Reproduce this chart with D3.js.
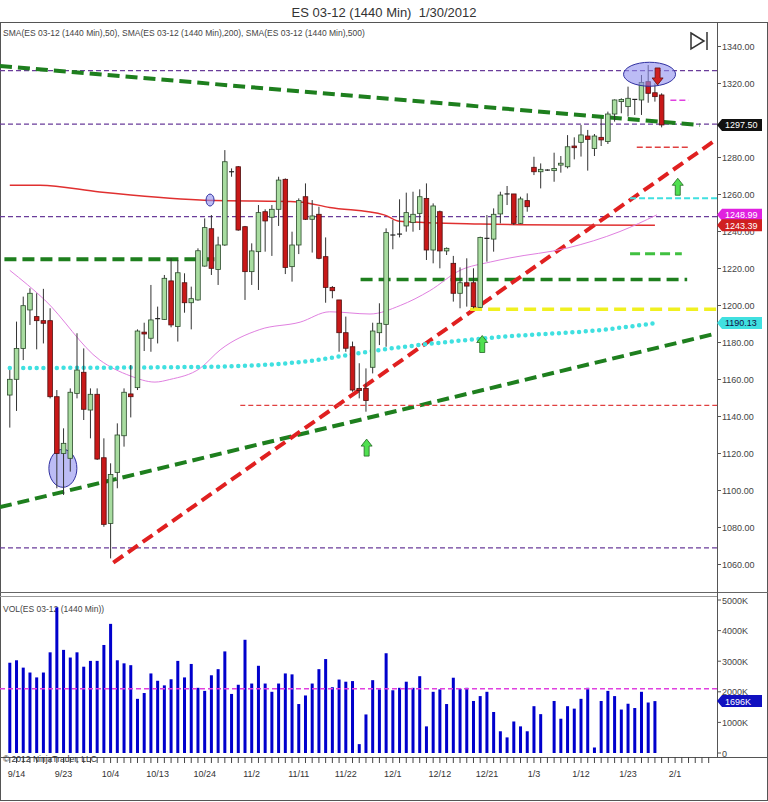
<!DOCTYPE html>
<html><head><meta charset="utf-8">
<script src="https://cdn.jsdelivr.net/npm/d3@7"></script>
<style>body{margin:0;background:#fff}text{font-family:"Liberation Sans",Arial,sans-serif}</style>
</head><body><svg id="c" width="768" height="802"></svg>
<script>
const opens=[1151.6,1160.1,1176.8,1197.6,1194,1191.8,1191.8,1150.7,1120,1117.4,1152.5,1163.9,1143.5,1152,1117.7,1082.2,1109.8,1129.6,1152.2,1155.6,1185.6,1182.3,1192.9,1192.5,1213.3,1188.6,1212.3,1201.5,1203,1221.3,1241.5,1219.5,1232.7,1272.3,1275,1242.6,1218.3,1229.1,1250.7,1247.7,1252,1268.2,1221,1232.7,1258.8,1246.6,1249.3,1226.4,1209.8,1203,1185.3,1177.7,1155.2,1155.2,1166.6,1185.3,1189.8,1238.1,1238.6,1243,1244.8,1249.8,1257.9,1230,1250.7,1229.5,1222.8,1206.6,1212.3,1212.3,1199,1236.3,1235.9,1249.5,1260.3,1260.3,1244.4,1256.7,1274.7,1272.3,1273.2,1272.9,1275.9,1275,1286.2,1288.2,1291.6,1284.9,1290.9,1288.6,1303.5,1310.2,1307.5,1311.4,1311.1,1321,1315,1313.8];
const highs=[1165.1,1191.3,1204.8,1209.3,1206.6,1209,1198.5,1154.3,1133.6,1155.2,1185,1176.8,1155.2,1155.2,1128.2,1114.7,1136.3,1155.2,1167.8,1187.1,1190.7,1211.1,1199.4,1216.5,1225.5,1224.6,1217.4,1210.2,1230.9,1247.1,1248.9,1237.2,1284,1274.1,1275.4,1243,1233.6,1254.3,1252,1254.3,1269.6,1268.7,1239.9,1257.9,1266,1257,1253.4,1236.8,1210.5,1203,1194,1180.5,1168.8,1166,1190.7,1201.2,1241.7,1246.2,1257.4,1261,1261.5,1262.8,1266,1255.2,1251.3,1231.4,1226.8,1220.6,1225.5,1220.1,1237.2,1248.9,1252.5,1261.5,1264.6,1260.3,1258.8,1260.6,1280.4,1276.8,1273.6,1282.6,1280.8,1292.1,1290.9,1297.6,1294.9,1292.7,1301.2,1304.8,1311.4,1312,1318.3,1311.5,1324.6,1330,1320.1,1314.7];
const lows=[1134,1143,1170.5,1189.5,1176.3,1179.5,1149.8,1101.2,1097.6,1110.2,1149.8,1138.1,1128.2,1116.5,1080.4,1063.3,1101.2,1123.7,1139.5,1154.3,1175.4,1175,1179.5,1192.2,1188.2,1180.5,1196.1,1187.1,1202.6,1221,1216.5,1211.1,1232.2,1269.6,1240.4,1203,1211.1,1208.4,1229.1,1226.8,1243,1217,1212.9,1227.8,1246.2,1228.6,1225,1201.5,1203.9,1175,1175,1153.4,1149.8,1142.6,1163.3,1178.6,1177.7,1230.4,1236.8,1239.9,1239.9,1240.8,1224.6,1222.8,1220.1,1227.3,1202.1,1198.5,1199.4,1198.5,1198.8,1223.7,1229.1,1244.4,1254.3,1243.5,1244.1,1250.7,1270.5,1263.3,1272.8,1266.9,1271.8,1274.1,1279,1280.5,1272.9,1280.8,1286.2,1287.3,1299.4,1303.9,1302.1,1303,1303,1309.6,1310.2,1296.3];
const closes=[1160.1,1176.8,1199.9,1206.6,1191.8,1190.4,1150.7,1120,1125.5,1153.1,1165.1,1143.9,1152,1117,1081.7,1108.7,1130,1153.1,1150.7,1186.2,1184.6,1192.2,1192.9,1214.7,1189.5,1217.7,1201.5,1203.7,1229.6,1242.1,1220.1,1232.7,1277.7,1272.3,1240.8,1218.3,1229.5,1250.2,1245.7,1252,1267.8,1220.6,1232.7,1256.7,1246.6,1248.4,1225.5,1209.8,1208,1185.3,1176.9,1154.3,1154,1148.6,1186.2,1190.4,1239.4,1238.1,1238.6,1250.2,1249.3,1258.8,1230,1253.8,1229.5,1230.9,1206.6,1212.3,1210.5,1199.4,1236.8,1236.3,1249.3,1259.7,1260.3,1244.4,1257.6,1253.4,1272.3,1273.6,1273.2,1274.1,1276.9,1285.8,1285.3,1292.2,1289.8,1291.6,1289.5,1303.5,1311.1,1311.4,1312,1311.4,1320.6,1314.7,1312.9,1297.6];
const volumes=[2950,3030,2790,2630,2470,2630,3290,4760,3370,3120,3290,2820,3010,3010,3530,4220,3030,2930,2870,1770,1960,2600,2360,2210,2410,3010,2470,2910,2130,2030,2540,2740,3320,1930,2230,3700,2270,2850,2270,2000,2270,2600,2570,1600,1880,2270,2740,3070,2150,2400,2330,2350,290,1260,2380,2080,3260,2050,2130,2330,2130,2510,870,2000,2080,1600,2460,2100,2130,1700,1860,2000,1340,710,510,1030,870,710,1530,1270,0,1700,1120,1530,1450,1770,2130,180,1700,2030,1860,1420,1610,1470,2000,1650,1696];
const sma200Slots=[0,4.5,13.4,28.3,43,47.6,55.7,58,70,82,96];
const sma200=[1265,1265,1261.3,1257,1256,1253,1249,1245.5,1244,1243.5,1243.4];
const sma50Slots=[0,5.2,13.4,17.9,21.6,23.8,28.3,31.3,37.2,43.2,47.6,53.6,58.1,62.5,67,71.5,74.4,82.9,90.8,96.3];
const sma50=[1219,1203,1170.5,1162,1158.6,1160,1166,1176,1187,1191,1196.6,1195.4,1200,1208,1219,1223.5,1225.7,1231,1240,1249];
const cyanSlots=[0,28.8,43.4,55.1,73,88,96.3];
const cyanVals=[1166.2,1166.8,1169.5,1176,1183,1186.8,1190.6];
const dateLabels=["9/14","9/23","10/4","10/13","10/24","11/2","11/11","11/22","12/1","12/12","12/21","1/3","1/12","1/23","2/1"];
const priceTicks=[1340,1320,1280,1260,1240,1220,1200,1180,1160,1140,1120,1100,1080,1060];
const volTicks=[5000,4000,3000,2000,1000,0];

const svg=d3.select("#c");
const x=d3.scaleLinear().domain([0,104]).range([9.8,9.8+6.72*104]);
const y=d3.scaleLinear().domain([1060,1340]).range([564.5,46.5]);
const yv=d3.scaleLinear().domain([0,5000]).range([753,600]);
const R=717;

svg.append("text").attr("x",384).attr("y",17).attr("text-anchor","middle").attr("font-size",13).attr("fill","#333").style("white-space","pre").text("ES 03-12 (1440 Min)  1/30/2012");
svg.append("rect").attr("x",0.5).attr("y",22.5).attr("width",767).attr("height",778).attr("fill","none").attr("stroke","#555");
svg.append("line").attr("x1",0).attr("x2",768).attr("y1",592.5).attr("y2",592.5).attr("stroke","#666");
svg.append("line").attr("x1",0).attr("x2",R).attr("y1",596.5).attr("y2",596.5).attr("stroke","#999");
svg.append("line").attr("x1",R+.5).attr("x2",R+.5).attr("y1",22).attr("y2",757).attr("stroke","#555");
svg.append("line").attr("x1",0).attr("x2",768).attr("y1",757.5).attr("y2",757.5).attr("stroke","#555");

const ya=svg.append("g");
priceTicks.forEach(t=>{ya.append("line").attr("x1",R).attr("x2",R+4).attr("y1",y(t)).attr("y2",y(t)).attr("stroke","#555");
 ya.append("text").attr("x",R+5).attr("y",y(t)+3.5).attr("font-size",9).attr("fill","#444").text(t.toFixed(2));});
volTicks.forEach(t=>{ya.append("line").attr("x1",R).attr("x2",R+4).attr("y1",yv(t)).attr("y2",yv(t)).attr("stroke","#555");
 ya.append("text").attr("x",R+5).attr("y",yv(t)+3.5).attr("font-size",9).attr("fill","#444").text(t===0?"0":t+"K");});

for(let i=0;i<=104;i++){svg.append("line").attr("x1",x(i)).attr("x2",x(i)).attr("y1",757).attr("y2",763).attr("stroke","#444");}
dateLabels.forEach((d,k)=>svg.append("text").attr("x",x(1+7*k)).attr("y",777).attr("text-anchor","middle").attr("font-size",9).attr("fill","#333").text(d));

svg.append("text").attr("x",3).attr("y",36).attr("font-size",8.5).attr("fill","#444").text("SMA(ES 03-12 (1440 Min),50), SMA(ES 03-12 (1440 Min),200), SMA(ES 03-12 (1440 Min),500)");
svg.append("text").attr("x",3).attr("y",612).attr("font-size",8.5).attr("fill","#444").text("VOL(ES 03-12 (1440 Min))");

function seg(s1,p1,s2,p2,col,w,dash){svg.append("line").attr("x1",x(s1)).attr("y1",y(p1)).attr("x2",x(s2)).attr("y2",y(p2)).attr("stroke",col).attr("stroke-width",w).attr("stroke-dasharray",dash);}
const L=-1.46, Rs=(R-9.8)/6.72;
[1327,1298,1248,1069].forEach(p=>seg(L,p,Rs,p,"#6a3d9a",1.3,"5,3"));
seg(L,1329.5,102.7,1297.5,"#1e7f1e",4,"12,6");
seg(-0.8,1225,30.5,1225,"#1e7f1e",4,"12,6");
seg(L,1091,Rs,1185,"#1e7f1e",4,"12,6");
seg(52.2,1214,100.8,1214,"#1e7f1e",3.5,"12,6");
seg(15.4,1061,Rs,1290,"#e02020",4,"12,6");
seg(34.3,1146,Rs,1146,"#e04040",1.3,"5,3");
seg(68.5,1198,Rs,1198,"#f0f020",3.5,"12,6");
seg(92.3,1258,Rs,1258,"#40e0e0",2,"6,3");
seg(92.3,1228,100,1228,"#40c040",3,"10,5");
seg(93.3,1285.6,101,1285.6,"#e04040",1.5,"6,3");
seg(98.3,1311,101,1311,"#e040e0",1.5,"6,3");

const ln=d3.line().curve(d3.curveMonotoneX);
svg.append("path").attr("d",ln(sma200Slots.map((s,i)=>[x(s),y(sma200[i])]))).attr("fill","none").attr("stroke","#e03030").attr("stroke-width",1.5);
svg.append("path").attr("d",ln(sma50Slots.map((s,i)=>[x(s),y(sma50[i])]))).attr("fill","none").attr("stroke","#e080e0").attr("stroke-width",1);
svg.append("path").attr("d",ln(cyanSlots.map((s,i)=>[x(s),y(cyanVals[i])]))).attr("fill","none").attr("stroke","#40e0e0").attr("stroke-width",4.5).attr("stroke-linecap","round").attr("stroke-dasharray","0,6.72");

function ell(s,p,rx,ry){svg.append("ellipse").attr("cx",x(s)).attr("cy",y(p)).attr("rx",rx).attr("ry",ry).attr("fill","#9090ee").attr("fill-opacity",.6).attr("stroke","#3030a0");}
ell(7.9,1112,14,19);
ell(29.8,1257,4,6);

const g=svg.append("g");
opens.forEach((o,i)=>{const c=closes[i],up=c>=o,cx=x(i);
 g.append("line").attr("x1",cx).attr("x2",cx).attr("y1",y(highs[i])).attr("y2",y(lows[i])).attr("stroke","#333");
 const t=y(Math.max(o,c)),b=y(Math.min(o,c));
 if(b-t<1){g.append("line").attr("x1",cx-2.5).attr("x2",cx+2.5).attr("y1",t).attr("y2",t).attr("stroke","#222").attr("stroke-width",1.2);}
 else g.append("rect").attr("x",cx-2.3).attr("y",t).attr("width",4.6).attr("height",b-t).attr("fill",up?"#a8dca0":"#c81818").attr("stroke",up?"#2a4a2a":"#501010").attr("stroke-width",0.8);});
ell(95.2,1325,26,12);

function arrow(s,p,col,stroke,down){const cx=x(s),cy=y(p);const d=down?1:-1;
 svg.append("path").attr("d",`M${cx-2.5},${cy-10*d} L${cx+2.5},${cy-10*d} L${cx+2.5},${cy} L${cx+5.5},${cy} L${cx},${cy+7*d} L${cx-5.5},${cy} L${cx-2.5},${cy}Z`).attr("fill",col).attr("stroke",stroke).attr("stroke-width",.8);}
arrow(53.1,1124,"#50e050","#226622",false);
arrow(70.3,1180,"#50e050","#226622",false);
arrow(99.4,1265,"#50e050","#226622",false);
arrow(96.4,1323,"#d02020","#661111",true);

svg.append("g").selectAll("rect").data(volumes).join("rect").attr("x",(d,i)=>x(i)-1.5).attr("width",3).attr("y",d=>yv(d)).attr("height",d=>yv(0)-yv(d)).attr("fill","#0000cc");
svg.append("line").attr("x1",0).attr("x2",R).attr("y1",yv(2100)).attr("y2",yv(2100)).attr("stroke","#e040e0").attr("stroke-width",1.5).attr("stroke-dasharray","5,3");
svg.append("text").attr("x",3).attr("y",762).attr("font-size",8.5).attr("fill","#333").text("© 2012 NinjaTrader, LLC");

function flag(yy,txt,bg,fg){svg.append("path").attr("d",`M${R},${yy} L${R+5},${yy-6} L${R+45},${yy-6} L${R+45},${yy+6} L${R+5},${yy+6}Z`).attr("fill",bg);
 svg.append("text").attr("x",R+8).attr("y",yy+3.5).attr("font-size",9).attr("fill",fg).text(txt);}
flag(y(closes[closes.length-1]),"1297.50","#111","#fff");
flag(y(sma50[sma50.length-1]),"1248.99","#e020e0","#fff");
flag(y(sma200[sma200.length-1]),"1243.39","#d02020","#fff");
flag(y(cyanVals[cyanVals.length-1]),"1190.13","#40e0e0","#114");
flag(yv(volumes[volumes.length-1]),"1696K","#1010c0","#fff");

svg.append("path").attr("d","M691,33 L704,41 L691,49Z").attr("fill","none").attr("stroke","#333").attr("stroke-width",1.5);
svg.append("line").attr("x1",707).attr("x2",707).attr("y1",32).attr("y2",50).attr("stroke","#333").attr("stroke-width",1.5);
</script></body></html>
